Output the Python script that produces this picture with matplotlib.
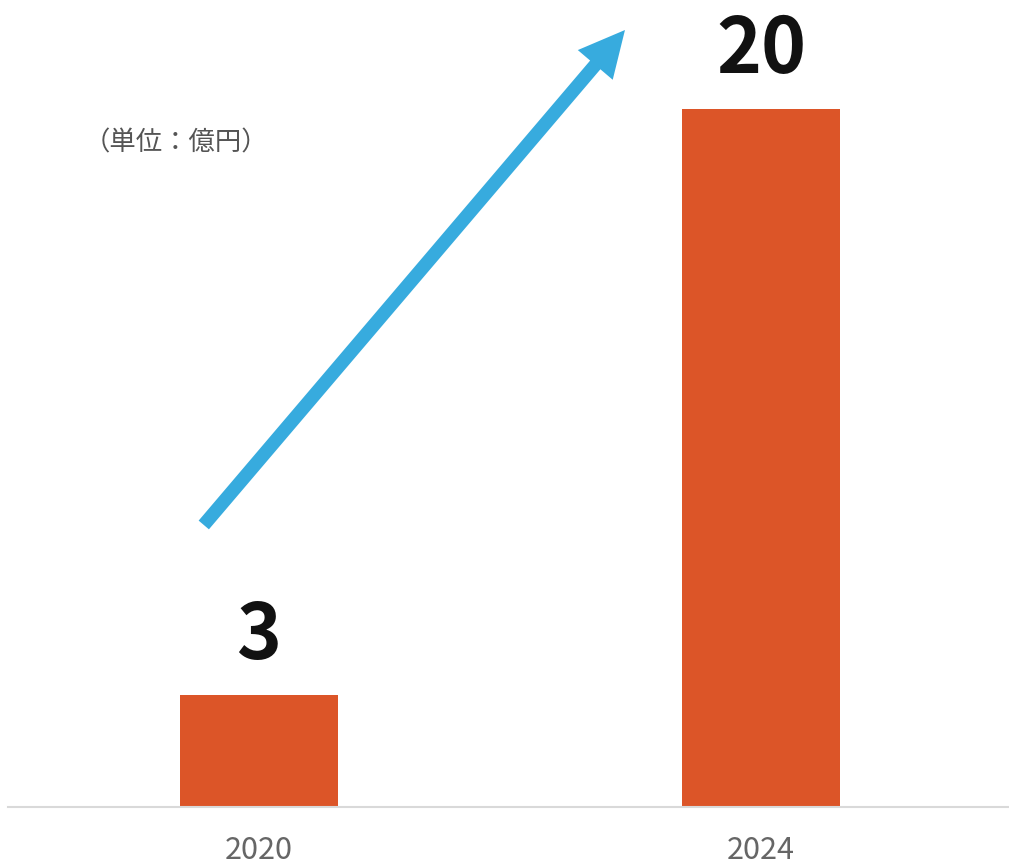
import numpy as np
import matplotlib
matplotlib.use("Agg")
import matplotlib.pyplot as plt
from matplotlib.patches import FancyArrowPatch

# Data
years = ["2020", "2024"]
values = [3.2, 20.0]
value_labels = ["3", "20"]
unit_label = "（単位：億円）"

# Colours
bar_color = "#DC5528"
arrow_color = "#37ABDE"
tick_color = "#666666"

plt.rcParams["font.family"] = ["Noto Sans CJK JP", "DejaVu Sans"]

fig = plt.figure(figsize=(10.09, 8.65), dpi=100)
ax = fig.add_axes([8 / 1009, 58 / 865, 1000 / 1009, 807 / 865])

x = np.arange(len(years))
bars = ax.bar(x, values, width=0.315, color=bar_color, zorder=2)

ax.set_xlim(-0.5, 1.492)
ax.set_ylim(0, 23.12)

# Value labels above bars
for rect, lab in zip(bars, value_labels):
    ax.annotate(lab, (rect.get_x() + rect.get_width() / 2, rect.get_height()),
                xytext=(0, 26), textcoords="offset points",
                ha="center", va="baseline", fontsize=55, fontweight="bold",
                color="#111111")

# Growth arrow
arrow = FancyArrowPatch((-0.11, 8.08), (0.729, 22.26),
                        arrowstyle="simple,head_length=33,head_width=33,tail_width=9.7",
                        mutation_scale=1, color=arrow_color, lw=0,
                        shrinkA=0, shrinkB=0, zorder=3)
ax.add_patch(arrow)

# Unit text
fig.text(84 / 1009, 1 - 143 / 865, unit_label, ha="left", va="center",
         fontsize=19, color="#555555")

# Axes styling
for side in ["top", "right", "left"]:
    ax.spines[side].set_visible(False)
ax.spines["bottom"].set_color("#D9D9D9")
ax.spines["bottom"].set_linewidth(1.5)
ax.set_yticks([])
ax.set_xticks(x)
ax.set_xticklabels(years, fontsize=22, color=tick_color)
ax.tick_params(axis="x", length=0, pad=20)

fig.savefig("out.png", dpi=100)
